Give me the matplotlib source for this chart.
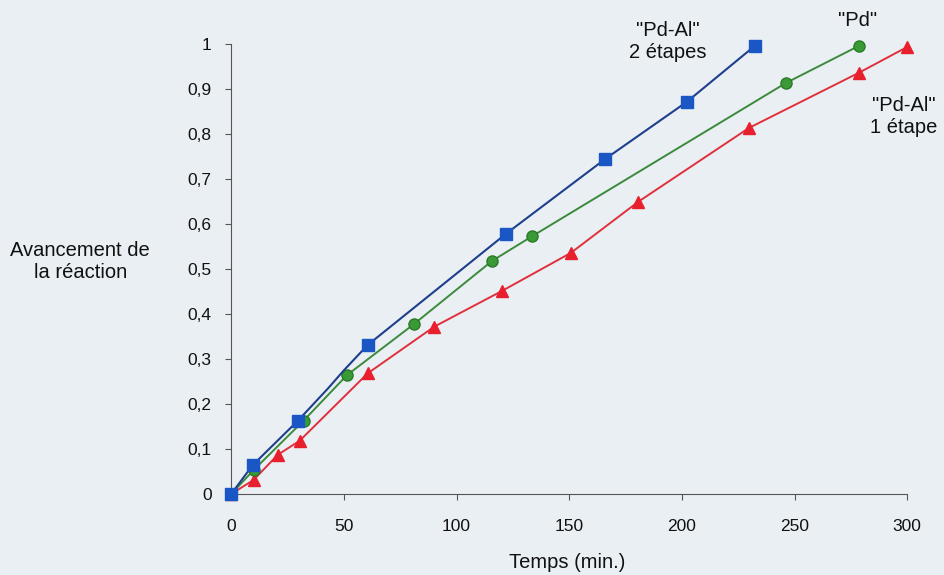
import matplotlib
matplotlib.use("Agg")
import matplotlib.pyplot as plt

# Data (time in min, reaction progress)
pdal2_t = [0, 9.5, 29.6, 43, 50, 60.5, 121.8, 166, 202.2, 232.5]
pdal2_y = [0, 0.064, 0.163, 0.235, 0.275, 0.331, 0.578, 0.745, 0.872, 0.997]
pdal2_marks = [0, 1, 2, 5, 6, 7, 8, 9]

pd_t = [0, 9.9, 32.1, 51.3, 80.9, 115.7, 133.5, 246.2, 278.4]
pd_y = [0, 0.053, 0.163, 0.264, 0.377, 0.518, 0.573, 0.914, 0.996]

pdal1_t = [0, 9.9, 20.6, 30.3, 60.5, 90.1, 120, 150.7, 180.7, 229.8, 278.7, 300]
pdal1_y = [0, 0.031, 0.087, 0.118, 0.268, 0.372, 0.451, 0.536, 0.650, 0.814, 0.937, 0.994]

x_ticks = [0, 50, 100, 150, 200, 250, 300]
y_ticks = [0, 0.1, 0.2, 0.3, 0.4, 0.5, 0.6, 0.7, 0.8, 0.9, 1]

BG = "#eaeff4"
TXT = 14.5
plt.rcParams["font.family"] = ["Liberation Sans", "DejaVu Sans"]

fig = plt.figure(figsize=(9.44, 5.75), dpi=100, facecolor=BG)
ax = fig.add_axes([0.245, 0.141, 0.716, 0.782])
ax.set_facecolor(BG)

ax.plot(pdal1_t, pdal1_y, color="#e0303c", lw=1.4, marker="^", ms=8,
        mfc="#e8202e", mec="#e8202e", clip_on=False, zorder=3)
ax.plot(pd_t, pd_y, color="#3c8a3c", lw=1.4, marker="o", ms=8,
        mfc="#3a9a35", mec="#2a7a28", clip_on=False, zorder=4)
ax.plot(pdal2_t, pdal2_y, color="#1e3f8c", lw=1.5, marker="s", ms=8,
        markevery=pdal2_marks, mfc="#1a56c4", mec="#1a56c4",
        clip_on=False, zorder=5)

ax.set_xlim(0, 300)
ax.set_ylim(0, 1)
ax.set_xticks(x_ticks)
ax.set_yticks(y_ticks)
ax.set_yticklabels([f"{v:g}".replace(".", ",") for v in y_ticks])
for s in ["top", "right"]:
    ax.spines[s].set_visible(False)
for s in ["left", "bottom"]:
    ax.spines[s].set_color("#555555")
ax.tick_params(colors="#555555", labelcolor="#111111", labelsize=12.5,
               length=4, direction="out")
ax.tick_params(axis="y", pad=10)
ax.tick_params(axis="x", pad=14)

fig.text(0.085, 0.546, "Avancement de\nla réaction", ha="center", va="center",
         fontsize=TXT, color="#111111", linespacing=1.2)
fig.text(0.601, 0.021, "Temps (min.)", ha="center", va="center",
         fontsize=TXT, color="#111111")
fig.text(0.707, 0.927, '"Pd-Al"\n2 étapes', ha="center", va="center",
         fontsize=TXT, color="#111111", linespacing=1.2)
fig.text(0.908, 0.965, '"Pd"', ha="center", va="center",
         fontsize=TXT, color="#111111")
fig.text(0.957, 0.798, '"Pd-Al"\n1 étape', ha="center", va="center",
         fontsize=TXT, color="#111111", linespacing=1.2)

fig.savefig("out.png", dpi=100, facecolor=BG)
